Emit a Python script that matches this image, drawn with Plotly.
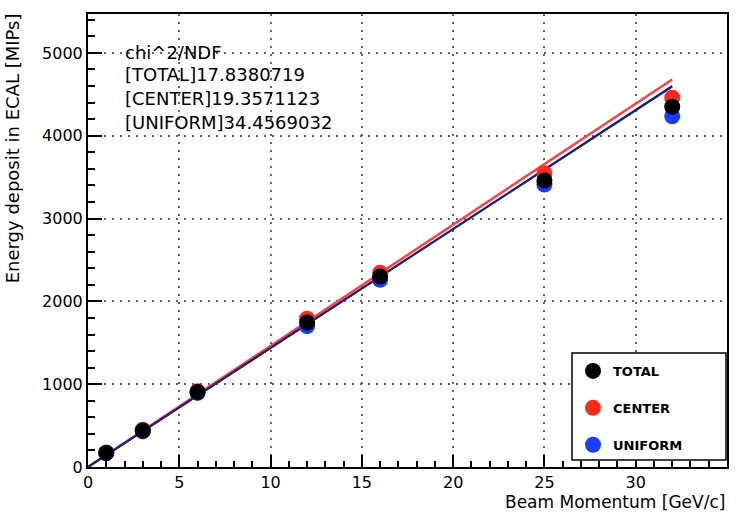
import plotly.graph_objects as go

momentum = [1, 3, 6, 12, 16, 25, 32]
total = [170, 440, 905, 1745, 2300, 3460, 4350]
center = [175, 450, 915, 1790, 2345, 3545, 4460]
uniform = [165, 430, 895, 1700, 2260, 3410, 4235]

fit_x = [0, 32]
fit_total = [0, 4600]
fit_center = [0, 4680]
fit_uniform = [0, 4590]

chi_lines = ["chi^2/NDF", "[TOTAL]17.8380719", "[CENTER]19.3571123", "[UNIFORM]34.4569032"]

FONT = "DejaVu Sans, Liberation Sans, sans-serif"
fig = go.Figure()

fig.add_trace(go.Scatter(x=fit_x, y=fit_center, mode="lines", line=dict(color="#ff4040", width=2.5), showlegend=False))
fig.add_trace(go.Scatter(x=fit_x, y=fit_total, mode="lines", line=dict(color="#101030", width=2), showlegend=False))
fig.add_trace(go.Scatter(x=fit_x, y=fit_uniform, mode="lines", line=dict(color="#2020a0", width=1.5), showlegend=False))

fig.add_trace(go.Scatter(x=momentum, y=center, mode="markers", name="CENTER", legendrank=2, legendgroup="c",
                         marker=dict(color="#ff2a1a", size=16)))
fig.add_trace(go.Scatter(x=momentum, y=uniform, mode="markers", name="UNIFORM", legendrank=3, legendgroup="u",
                         marker=dict(color="#1a3cff", size=16)))
fig.add_trace(go.Scatter(x=momentum, y=total, mode="markers", name="TOTAL", legendrank=1, legendgroup="t",
                         marker=dict(color="#000000", size=16)))

W = 639.0
H = 453.0
ann = []
ys = [0.914, 0.866, 0.813, 0.760]
for t, yy in zip(chi_lines, ys):
    ann.append(dict(text=t, x=0.054, y=yy, xref="paper", yref="paper", xanchor="left", yanchor="middle",
                    showarrow=False, font=dict(family=FONT, size=18, color="black")))
ann.append(dict(text="Energy deposit in ECAL [MIPs]", x=-0.118, y=1.005, xref="paper", yref="paper",
                xanchor="center", yanchor="top", textangle=-90, showarrow=False,
                font=dict(family=FONT, size=18, color="black")))
ann.append(dict(text="Beam Momentum [GeV/c]", x=1.0, y=-0.05, xref="paper", yref="paper",
                xanchor="right", yanchor="top", showarrow=False,
                font=dict(family=FONT, size=17, color="black")))

# legend frame
shapes = [dict(type="rect", xref="paper", yref="paper",
               x0=(572 - 88) / W, x1=(726 - 88) / W,
               y0=(467 - 460) / H, y1=(467 - 353) / H,
               fillcolor="white", line=dict(color="black", width=1.5), layer="above")]

fig.update_layout(
    width=736, height=513,
    margin=dict(l=88, r=9, t=14, b=46, autoexpand=False),
    paper_bgcolor="white", plot_bgcolor="white",
    font=dict(family=FONT, size=16, color="black"),
    annotations=ann, shapes=shapes,
    legend=dict(x=(573 - 88) / W, y=(467 - 356) / H, xanchor="left", yanchor="top",
                bgcolor="rgba(0,0,0,0)", borderwidth=0,
                font=dict(family=FONT, size=13, weight="bold"),
                itemwidth=30, tracegroupgap=17),
    xaxis=dict(range=[0, 35], dtick=5, showline=True, linecolor="black", linewidth=2, mirror=True,
               automargin=False,
               ticks="inside", ticklen=12, tickwidth=1.5, tickcolor="black",
               minor=dict(dtick=1, ticks="inside", ticklen=6, tickcolor="black", showgrid=False),
               showgrid=True, gridcolor="#666", griddash="2px,6px", gridwidth=1.5, zeroline=False,
               tickfont=dict(size=16)),
    yaxis=dict(range=[0, 5470], dtick=1000, showline=True, linecolor="black", linewidth=2, mirror=True,
               automargin=False,
               ticks="inside", ticklen=14, tickwidth=1.5, tickcolor="black",
               minor=dict(dtick=200, ticks="inside", ticklen=7, tickcolor="black", showgrid=False),
               showgrid=True, gridcolor="#666", griddash="2px,6px", gridwidth=1.5, zeroline=False,
               tickfont=dict(size=16)),
)

fig.write_html("out.html")
